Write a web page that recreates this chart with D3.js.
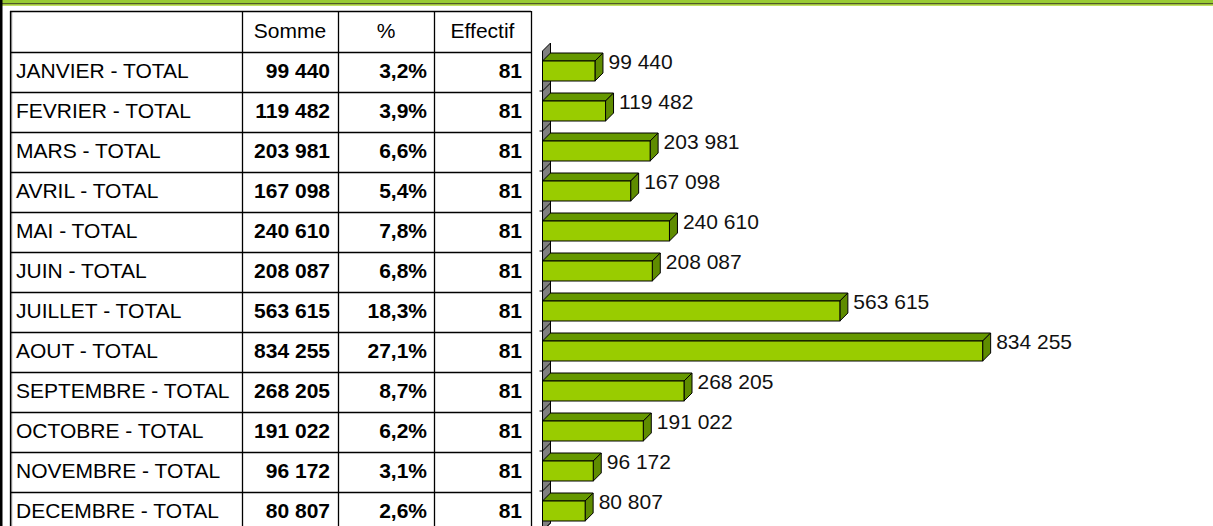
<!DOCTYPE html>
<html>
<head>
<meta charset="utf-8">
<script src="https://cdn.jsdelivr.net/npm/d3@7"></script>
<style>
  html, body { margin: 0; padding: 0; background: #fff; overflow: hidden; }
  svg { display: block; font-family: "Liberation Sans", Arial, sans-serif; }
</style>
</head>
<body>
<script>
// data
let months = ["JANVIER", "FEVRIER", "MARS", "AVRIL", "MAI", "JUIN", "JUILLET",
              "AOUT", "SEPTEMBRE", "OCTOBRE", "NOVEMBRE", "DECEMBRE"]
let sommes = [99440, 119482, 203981, 167098, 240610, 208087, 563615,
              834255, 268205, 191022, 96172, 80807]
let pcts = [3.2, 3.9, 6.6, 5.4, 7.8, 6.8, 18.3, 27.1, 8.7, 6.2, 3.1, 2.6]
let effectifs = [81, 81, 81, 81, 81, 81, 81, 81, 81, 81, 81, 81]
let headers = ["", "Somme", "%", "Effectif"]

let W = 1213, H = 526
let fr = d3.formatLocale({decimal: ",", thousands: " ", grouping: [3], currency: ["", ""]})
let fmtNum = fr.format(",d")
let fmtPct = v => fr.format(".1f")(v) + "%"

let svg = d3.select('body').append('svg')
    .attr('width', W)
    .attr('height', H)

// top band + left edge
svg.append('rect').attr('x', 0).attr('y', 0).attr('width', W).attr('height', 3.2).attr('fill', '#99cc33')
svg.append('rect').attr('x', 0).attr('y', 3.2).attr('width', W).attr('height', 1.2).attr('fill', '#2b3300')
svg.append('rect').attr('x', 0).attr('y', 4.4).attr('width', W).attr('height', 1.2).attr('fill', '#99cc00')
svg.append('rect').attr('x', 0).attr('y', 0).attr('width', 2.5).attr('height', H).attr('fill', '#000')

// ---- table ----
let colX = [10, 242, 338, 434, 531]
let headTop = 11, headBot = 52
let rowY = d3.scaleBand().domain(months).range([headBot, headBot + 40 * months.length])

let table = svg.append('g')
// left shadow
table.append('line')
    .attr('x1', colX[0] + 1.5).attr('x2', colX[0] + 1.5)
    .attr('y1', headTop).attr('y2', H)
    .attr('stroke', '#999').attr('stroke-width', 1.5)

let hLines = [headTop, headBot].concat(months.map(m => rowY(m) + rowY.bandwidth()))
table.selectAll('line.h').data(hLines).join('line')
    .attr('class', 'h')
    .attr('x1', colX[0]).attr('x2', colX[4])
    .attr('y1', d => d + 0.5).attr('y2', d => d + 0.5)
    .attr('stroke', '#000').attr('stroke-width', 1.3)
table.selectAll('line.v').data(colX).join('line')
    .attr('class', 'v')
    .attr('x1', d => d + 0.5).attr('x2', d => d + 0.5)
    .attr('y1', headTop).attr('y2', H + 10)
    .attr('stroke', '#000').attr('stroke-width', 1.3)

table.selectAll('text.head').data(headers).join('text')
    .attr('class', 'head')
    .attr('x', (d, i) => (colX[i] + colX[i + 1]) / 2)
    .attr('y', headTop + 27)
    .attr('text-anchor', 'middle')
    .attr('font-size', 21)
    .text(d => d)

let rows = table.selectAll('g.row').data(months).join('g')
    .attr('class', 'row')
    .attr('transform', d => `translate(0,${rowY(d) + 26})`)
rows.append('text')
    .attr('x', colX[0] + 6)
    .attr('font-size', 21)
    .text(d => d + " - TOTAL")
rows.append('text')
    .attr('x', colX[2] - 8).attr('text-anchor', 'end')
    .attr('font-size', 21).attr('font-weight', 'bold')
    .text((d, i) => fmtNum(sommes[i]))
rows.append('text')
    .attr('x', colX[3] - 7).attr('text-anchor', 'end')
    .attr('font-size', 21).attr('font-weight', 'bold')
    .text((d, i) => fmtPct(pcts[i]))
rows.append('text')
    .attr('x', colX[4] - 9).attr('text-anchor', 'end')
    .attr('font-size', 21).attr('font-weight', 'bold')
    .text((d, i) => effectifs[i])

// ---- 3D bar chart ----
let depth = 8
let x = d3.scaleLinear().domain([0, 900000]).range([542.5, 542.5 + 900000 * 0.0005276])
let y = d3.scaleBand().domain(months).range([51, 51 + 40 * months.length])
    .paddingInner(0.5).paddingOuter(0.25)
let step = y.step()
let x0 = x(0)

let chart = svg.append('g')
// side wall
let wallBot = y.range()[1]
chart.append('path')
    .attr('d', `M${x0},${y.range()[0]} L${x0 + depth},${y.range()[0] - depth} L${x0 + depth},${wallBot - depth} L${x0},${wallBot} Z`)
    .attr('fill', '#808080').attr('stroke', '#000').attr('stroke-width', 1)
// category boundaries on the wall
let bounds = months.map((m, i) => y.range()[0] + step * (i + 1))
chart.selectAll('path.tick').data(bounds).join('path')
    .attr('class', 'tick')
    .attr('d', d => `M${x0 - 3},${d} L${x0},${d} L${x0 + depth},${d - depth}`)
    .attr('fill', 'none').attr('stroke', '#000').attr('stroke-width', 1)

let bars = chart.selectAll('g.bar').data(months).join('g').attr('class', 'bar')
bars.each(function(m, i) {
    let g = d3.select(this)
    let x1 = x(sommes[i])
    let t = y(m), b = t + y.bandwidth()
    g.append('path')
        .attr('d', `M${x0},${t} L${x0 + depth},${t - depth} L${x1 + depth},${t - depth} L${x1},${t} Z`)
        .attr('fill', '#669900').attr('stroke', '#000').attr('stroke-width', 1).attr('stroke-linejoin', 'round')
    g.append('path')
        .attr('d', `M${x1},${t} L${x1 + depth},${t - depth} L${x1 + depth},${b - depth} L${x1},${b} Z`)
        .attr('fill', '#5f8c00').attr('stroke', '#000').attr('stroke-width', 1).attr('stroke-linejoin', 'round')
    g.append('rect')
        .attr('x', x0).attr('y', t)
        .attr('width', x1 - x0).attr('height', b - t)
        .attr('fill', '#99cc00').attr('stroke', '#000').attr('stroke-width', 1)
    g.append('text')
        .attr('x', x1 + depth + 5.5)
        .attr('y', t + 8)
        .attr('font-size', 21)
        .attr('fill', '#111')
        .text(fmtNum(sommes[i]))
})
</script>
</body>
</html>
